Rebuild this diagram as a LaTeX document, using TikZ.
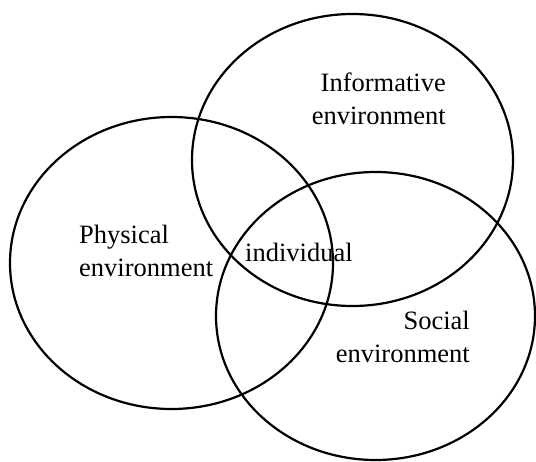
\documentclass[tikz,border=0pt]{standalone}
\usepackage{fontspec}
\setmainfont{Liberation Serif}
\usepackage{tikz}
\usetikzlibrary{positioning}

\tikzset{
	sphere/.style={line width=2.2pt},
	label/.style={inner sep=0pt,font=\fontsize{26.5}{33.5}\selectfont}
}

\begin{document}
\begin{tikzpicture}[x=1pt,y=-1pt]

	\useasboundingbox (0,0) rectangle (536,462);

	\coordinate (physcentre) at (171.5,263);
	\coordinate (infocentre) at (352.5,160);
	\coordinate (sociocentre) at (375.5,316);

	\draw[sphere] (physcentre) ellipse [x radius=161.5pt, y radius=146pt];
	\draw[sphere] (infocentre) ellipse [x radius=160.5pt, y radius=146pt];
	\draw[sphere] (sociocentre) ellipse [x radius=159.5pt, y radius=144pt];

	\node[label,anchor=base east,align=right](info) at (446,125) {Informative\\environment};
	\node[label,anchor=base west,align=left](phys) at (79,277) {Physical\\environment};
	\node[label,anchor=base west](indiv) at (245,262) {individual};
	\node[label,anchor=base east,align=right](socio) at (470,363) {Social\\environment};

\end{tikzpicture}
\end{document}
